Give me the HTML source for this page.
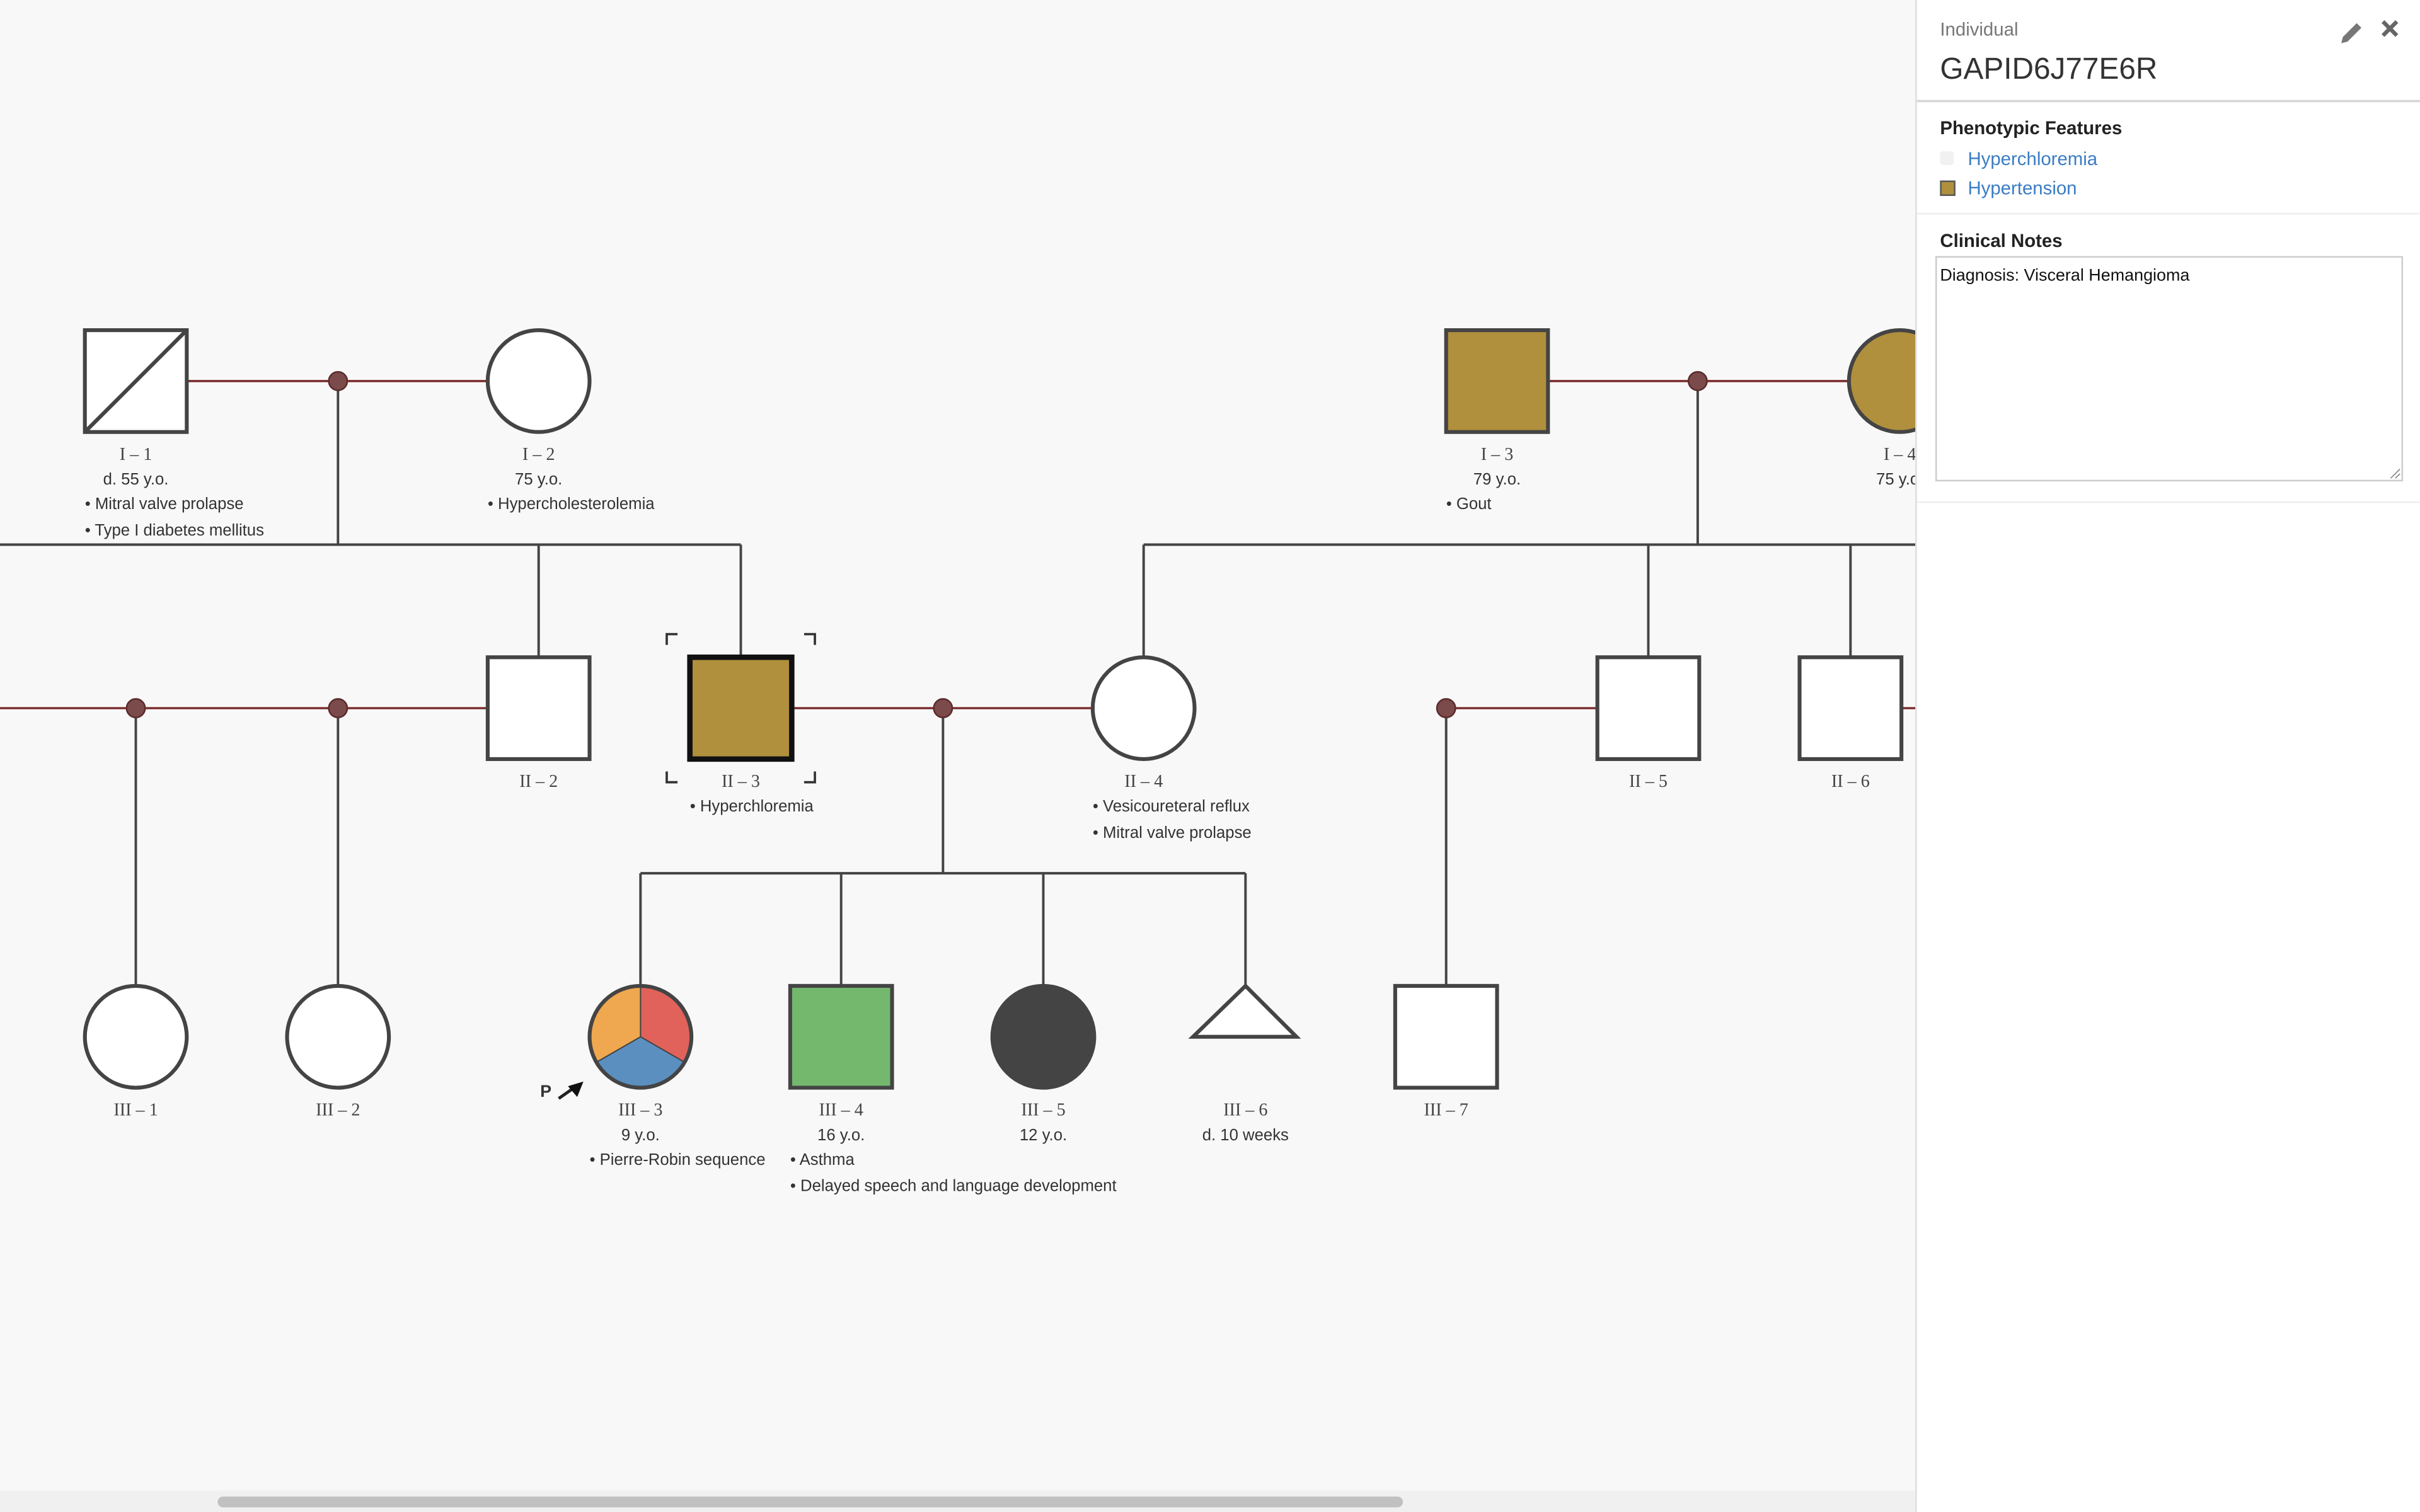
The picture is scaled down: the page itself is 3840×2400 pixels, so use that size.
<!DOCTYPE html>
<html><head><meta charset="utf-8"><style>
html,body{margin:0;padding:0;width:3840px;height:2400px;overflow:hidden;background:#f8f8f8}
svg{display:block}
.n{font-family:"Liberation Serif",serif;font-size:11.5px;fill:#444;text-anchor:middle}
.t{font-family:"Liberation Sans",sans-serif;font-size:10.5px;fill:#333}
.c{text-anchor:middle}
</style></head><body>
<svg width="3840" height="2400" viewBox="0 0 1568 980" preserveAspectRatio="none" xmlns="http://www.w3.org/2000/svg">
<rect x="0" y="0" width="1568" height="980" fill="#f8f8f8"/>
<g stroke="#444" stroke-width="1.6" fill="none">
<path d="M219 247V353M0 353H480M349 353V426M480 353V426"/>
<path d="M1100 247V353M741 353H1241M741 353V426M1068 353V426M1199 353V426"/>
<path d="M88 459V639M219 459V639M611 459V566M415 566H807M415 566V639M545 566V639M676 566V639M807 566V639M937 459V639"/>
</g>
<g stroke="#7a2a2a" stroke-width="1.4">
<path d="M121 247H316M1003 247H1198M0 459H316M513 459H708M937 459H1035M1232 459H1241"/>
</g>
<g fill="#7b4a4a" stroke="#5a2a2a" stroke-width="1">
<circle cx="219" cy="247" r="6"/><circle cx="1100" cy="247" r="6"/>
<circle cx="88" cy="459" r="6"/><circle cx="219" cy="459" r="6"/><circle cx="611" cy="459" r="6"/><circle cx="937" cy="459" r="6"/>
</g>
<g stroke="#444" stroke-width="2.5">
<rect x="55" y="214" width="66" height="66" fill="#fff"/><path d="M55 280L121 214" fill="none"/>
<circle cx="349" cy="247" r="33" fill="#fff"/>
<rect x="937" y="214" width="66" height="66" fill="#b0903d"/>
<circle cx="1231" cy="247" r="33" fill="#b0903d"/>
<rect x="316" y="426" width="66" height="66" fill="#fff"/>
<circle cx="741" cy="459" r="33" fill="#fff"/>
<rect x="1035" y="426" width="66" height="66" fill="#fff"/>
<rect x="1166" y="426" width="66" height="66" fill="#fff"/>
<circle cx="88" cy="672" r="33" fill="#fff"/>
<circle cx="219" cy="672" r="33" fill="#fff"/>
<rect x="512" y="639" width="66" height="66" fill="#74b86e"/>
<circle cx="676" cy="672" r="33" fill="#444"/>
<path d="M807 639L840 672H773Z" fill="#fff"/>
<rect x="904" y="639" width="66" height="66" fill="#fff"/>
</g>
<rect x="447" y="426" width="66" height="66" fill="#b0903d" stroke="#111" stroke-width="3.5"/>
<g stroke="#333" stroke-width="1.5" fill="none">
<path d="M432 418V411H439M521 411H528V418M432 500V507H439M521 507H528V500"/>
</g>
<g stroke="#444" stroke-width="0.8">
<path d="M415 672L415 639A33 33 0 0 1 443.6 688.5Z" fill="#e0625a"/>
<path d="M415 672L443.6 688.5A33 33 0 0 1 386.4 688.5Z" fill="#5b8fc0"/>
<path d="M415 672L386.4 688.5A33 33 0 0 1 415 639Z" fill="#efa84f"/>
</g>
<circle cx="415" cy="672" r="33" fill="none" stroke="#444" stroke-width="2.5"/>
<path d="M362 712L372 705" stroke="#222" stroke-width="2"/>
<path d="M378 701L368 704L374 711Z" fill="#111"/>
<text x="350" y="711" class="t" style="font-weight:bold;font-size:11px">P</text>
<text class="n" x="88" y="298">I – 1</text>
<text class="t c" x="88" y="314">d. 55 y.o.</text>
<text class="t" x="55" y="330">• Mitral valve prolapse</text>
<text class="t" x="55" y="347">• Type I diabetes mellitus</text>
<text class="n" x="349" y="298">I – 2</text>
<text class="t c" x="349" y="314">75 y.o.</text>
<text class="t" x="316" y="330">• Hypercholesterolemia</text>
<text class="n" x="970" y="298">I – 3</text>
<text class="t c" x="970" y="314">79 y.o.</text>
<text class="t" x="937" y="330">• Gout</text>
<text class="n" x="1231" y="298">I – 4</text>
<text class="t c" x="1231" y="314">75 y.o.</text>
<text class="n" x="349" y="510">II – 2</text>
<text class="n" x="480" y="510">II – 3</text>
<text class="t" x="447" y="526">• Hyperchloremia</text>
<text class="n" x="741" y="510">II – 4</text>
<text class="t" x="708" y="526">• Vesicoureteral reflux</text>
<text class="t" x="708" y="543">• Mitral valve prolapse</text>
<text class="n" x="1068" y="510">II – 5</text>
<text class="n" x="1199" y="510">II – 6</text>
<text class="n" x="88" y="723">III – 1</text>
<text class="n" x="219" y="723">III – 2</text>
<text class="n" x="415" y="723">III – 3</text>
<text class="t c" x="415" y="739">9 y.o.</text>
<text class="t" x="382" y="755">• Pierre-Robin sequence</text>
<text class="n" x="545" y="723">III – 4</text>
<text class="t c" x="545" y="739">16 y.o.</text>
<text class="t" x="512" y="755">• Asthma</text>
<text class="t" x="512" y="772">• Delayed speech and language development</text>
<text class="n" x="676" y="723">III – 5</text>
<text class="t c" x="676" y="739">12 y.o.</text>
<text class="n" x="807" y="723">III – 6</text>
<text class="t c" x="807" y="739">d. 10 weeks</text>
<text class="n" x="937" y="723">III – 7</text>
<rect x="0" y="966" width="1241" height="14" fill="#f0f0f0"/>
<rect x="141" y="970" width="768" height="7" rx="3.5" fill="#c1c1c1"/>
<!-- panel -->
<rect x="1241" y="0" width="327" height="980" fill="#fff"/>
<path d="M1241.5 0V980" stroke="#ddd" stroke-width="1"/>
<path d="M1242 65.5H1568" stroke="#d6d6d6" stroke-width="1.5"/>
<path d="M1242 138.5H1568M1242 325.5H1568" stroke="#eee" stroke-width="1"/>
<text x="1257" y="23" class="t" style="font-size:12px;fill:#777">Individual</text>
<text x="1257" y="51" style="font-family:'Liberation Sans',sans-serif;font-size:19.5px;fill:#333">GAPID6J77E6R</text>
<path d="M1518 24L1527 15L1530 18L1521 27L1517 28Z" fill="#777"/>
<path d="M1544 14L1553 23M1553 14L1544 23" stroke="#666" stroke-width="2.6"/>
<text x="1257" y="87" class="t" style="font-size:12px;font-weight:bold;fill:#222">Phenotypic Features</text>
<rect x="1257" y="98" width="9" height="9" rx="2" fill="#f1f1f1"/>
<text x="1275" y="107" class="t" style="font-size:12px;fill:#3b7dc4">Hyperchloremia</text>
<rect x="1257.5" y="117.5" width="9" height="9" fill="#b0903d" stroke="#555"/>
<text x="1275" y="126" class="t" style="font-size:12px;fill:#3b7dc4">Hypertension</text>
<text x="1257" y="160" class="t" style="font-size:12px;font-weight:bold;fill:#222">Clinical Notes</text>
<rect x="1254.5" y="166.5" width="302" height="145" fill="#fff" stroke="#ccc" stroke-width="1"/>
<text x="1257" y="182" class="t" style="font-size:11px;fill:#111">Diagnosis: Visceral Hemangioma</text>
<path d="M1549 310L1555 304M1552 310L1555 307" stroke="#888" stroke-width="0.7"/>
</svg>
</body></html>
